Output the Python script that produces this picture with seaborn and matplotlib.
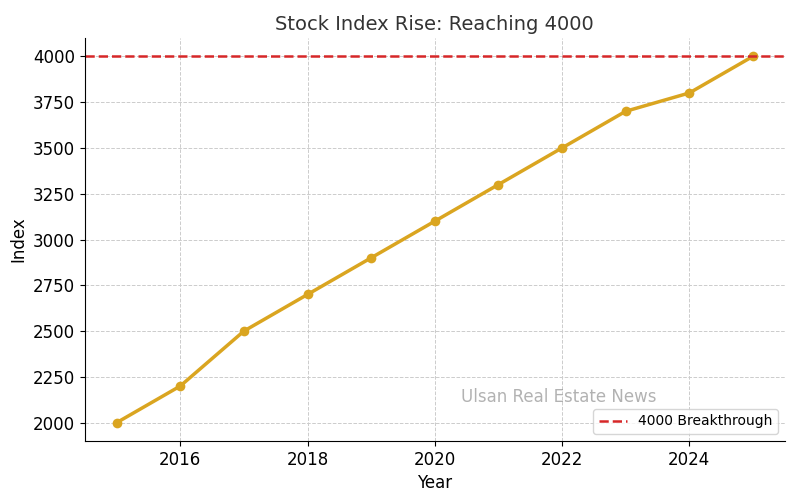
import matplotlib
matplotlib.use("Agg")
import matplotlib.pyplot as plt
import seaborn as sns
import pandas as pd

years = [2015, 2016, 2017, 2018, 2019, 2020, 2021, 2022, 2023, 2024, 2025]
index_values = [2000, 2200, 2500, 2700, 2900, 3100, 3300, 3500, 3700, 3800, 4000]
target_level = 4000

sns.set_style("ticks")
plt.rcParams['font.family'] = ['DejaVu Sans']
plt.rcParams['text.color'] = 'black'
plt.rcParams['axes.labelcolor'] = 'black'
plt.rcParams['xtick.color'] = 'black'
plt.rcParams['ytick.color'] = 'black'
plt.rcParams['axes.edgecolor'] = 'black'

df = pd.DataFrame({"Year": years, "Index": index_values})

fig, ax = plt.subplots(figsize=(8, 5), dpi=100)
sns.lineplot(data=df, x="Year", y="Index", color="#DAA520", marker="o",
             markersize=7, markeredgewidth=0, linewidth=2.5, ax=ax)
ax.axhline(target_level, color="#d62728", linestyle="--", linewidth=1.8,
           label="4000 Breakthrough")

ax.set_title("Stock Index Rise: Reaching 4000", fontsize=14, color="#333333")
ax.set_xlabel("Year", fontsize=12)
ax.set_ylabel("Index", fontsize=12)
ax.tick_params(labelsize=12)
ax.grid(True, linestyle="--", color="#cccccc", linewidth=0.7)
sns.despine(ax=ax)

ax.text(0.677, 0.11, "Ulsan Real Estate News", transform=ax.transAxes,
        fontsize=12, color="gray", alpha=0.6, ha="center", va="center")
ax.legend(loc="lower right", fontsize=10)

fig.subplots_adjust(left=0.106, right=0.981, top=0.924, bottom=0.118)
fig.savefig("out.png", dpi=100)
